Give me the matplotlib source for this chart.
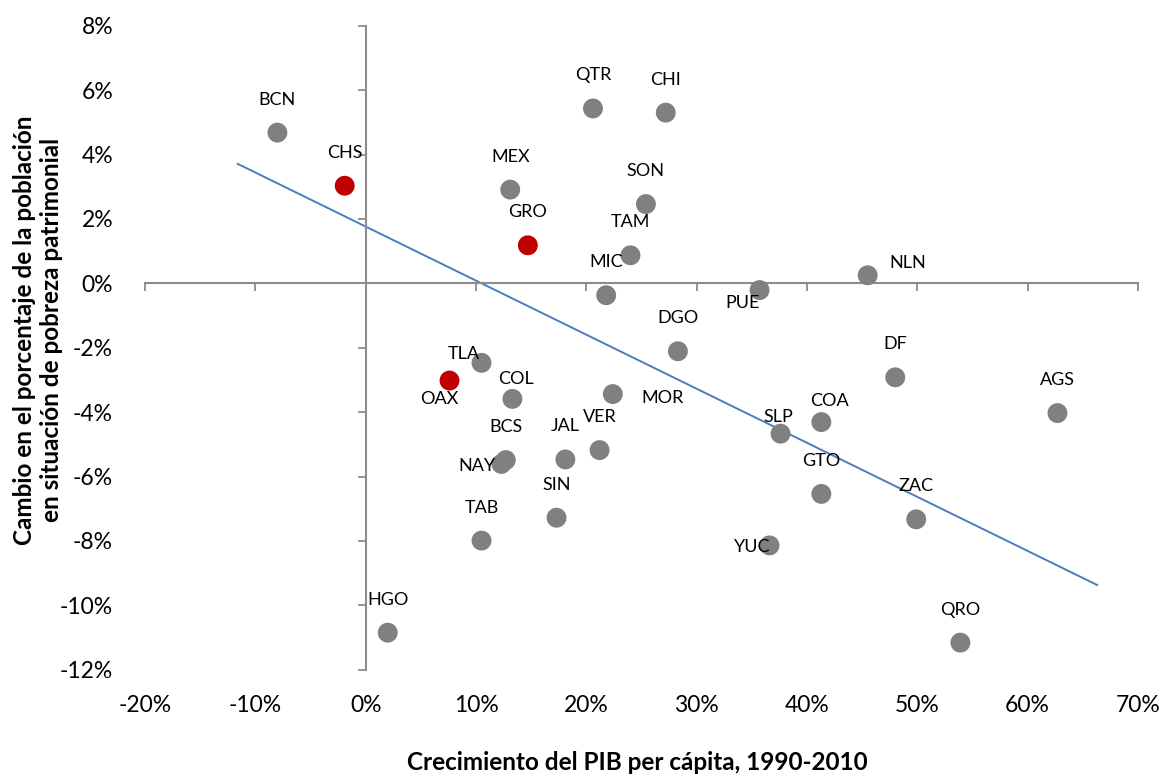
import numpy as np
import matplotlib
matplotlib.use("Agg")
import matplotlib.pyplot as plt
from matplotlib.ticker import FuncFormatter

plt.rcParams["font.family"] = ["Lato", "DejaVu Sans"]

# --- Datos (en %) ---
states = ["BCN", "CHS", "MEX", "GRO", "QTR", "CHI", "SON", "TAM", "MIC", "PUE",
          "NLN", "DGO", "DF", "TLA", "OAX", "COL", "MOR", "VER", "JAL", "BCS",
          "NAY", "SIN", "TAB", "AGS", "COA", "SLP", "GTO", "ZAC", "YUC", "QRO", "HGO"]
pib = [-8.0, -1.9, 13.1, 14.7, 20.6, 27.2, 25.4, 24.0, 21.8, 35.7,
       45.5, 28.3, 48.0, 10.5, 7.6, 13.3, 22.4, 21.2, 18.1, 12.7,
       12.3, 17.3, 10.5, 62.7, 41.3, 37.6, 41.3, 49.9, 36.6, 53.9, 2.0]
pobreza = [4.68, 3.03, 2.91, 1.18, 5.43, 5.30, 2.46, 0.87, -0.37, -0.21,
           0.25, -2.11, -2.92, -2.47, -3.02, -3.59, -3.44, -5.18, -5.47, -5.49,
           -5.61, -7.28, -7.99, -4.03, -4.31, -4.67, -6.54, -7.33, -8.14, -11.16, -10.85]
red_states = ["CHS", "GRO", "OAX"]

trend_x = [-11.6, 66.3]
trend_y = [3.71, -9.37]

x_ticks = np.arange(-20, 71, 10)
y_ticks = np.arange(-12, 9, 2)

# desplazamiento de etiquetas en px (x a la derecha, y hacia abajo); por defecto arriba
label_offsets = {
    "PUE": (-17, 13), "NLN": (40, -12), "TLA": (-18, -9), "OAX": (-10, 18),
    "COL": (4, -20), "MOR": (50, 4), "NAY": (-24, 2), "COA": (8, -21),
    "SLP": (-2, -17), "YUC": (-17, 2),
}

W, H = 1165, 777
fig = plt.figure(figsize=(W / 100, H / 100), dpi=100, facecolor="white")
pos = [145 / W, 1 - 669.7 / H, (1138 - 145) / W, (669.7 - 25.7) / H]

ax = fig.add_axes(pos)
axis_col = "#8c8c8c"
ax.set_xlim(-20, 70)
ax.set_ylim(-12, 8)
for s in ["top", "right"]:
    ax.spines[s].set_visible(False)
ax.spines["left"].set_position(("data", 0))
ax.spines["bottom"].set_position(("data", 0))
for s in ["left", "bottom"]:
    ax.spines[s].set_color(axis_col)
    ax.spines[s].set_linewidth(1.5)
ax.set_xticks(x_ticks)
ax.set_yticks(y_ticks)
ax.tick_params(direction="out", length=6, width=1.3, color=axis_col,
               labelleft=False, labelbottom=False)
ax.patch.set_alpha(0)

# línea de tendencia
ax.plot(trend_x, trend_y, color="#4a7ebb", lw=1.4, zorder=2)

colors = ["#c00000" if s in red_states else "#808080" for s in states]
ax.scatter(pib, pobreza, s=205, c=colors, edgecolors="none", zorder=3)

for s, xv, yv in zip(states, pib, pobreza):
    dx, dy = label_offsets.get(s, (0, -33))
    ax.annotate(s, xy=(xv, yv), xytext=(dx * 0.72, -dy * 0.72),
                textcoords="offset points", ha="center", va="center",
                fontsize=13, color="black", zorder=4)

# etiquetas de los ejes en los bordes
lab = fig.add_axes(pos, sharex=ax, sharey=ax)
lab.patch.set_visible(False)
for s in lab.spines.values():
    s.set_visible(False)
lab.tick_params(length=0, labelsize=16.5)
lab.tick_params(axis="x", pad=18)
lab.tick_params(axis="y", pad=23)
fmt = FuncFormatter(lambda v, p: f"{v:.0f}%")
lab.xaxis.set_major_formatter(fmt)
lab.yaxis.set_major_formatter(fmt)

fig.text(637 / W, 1 - 762 / H, "Crecimiento del PIB per cápita, 1990-2010",
         fontsize=17.5, fontweight="bold", ha="center", va="center")
fig.text(38 / W, 1 - 330 / H,
         "Cambio en el porcentaje de la población\nen situación de pobreza patrimonial",
         fontsize=17.5, fontweight="bold", ha="center", va="center",
         rotation=90, linespacing=1.2)

fig.savefig("out.png", dpi=100)
